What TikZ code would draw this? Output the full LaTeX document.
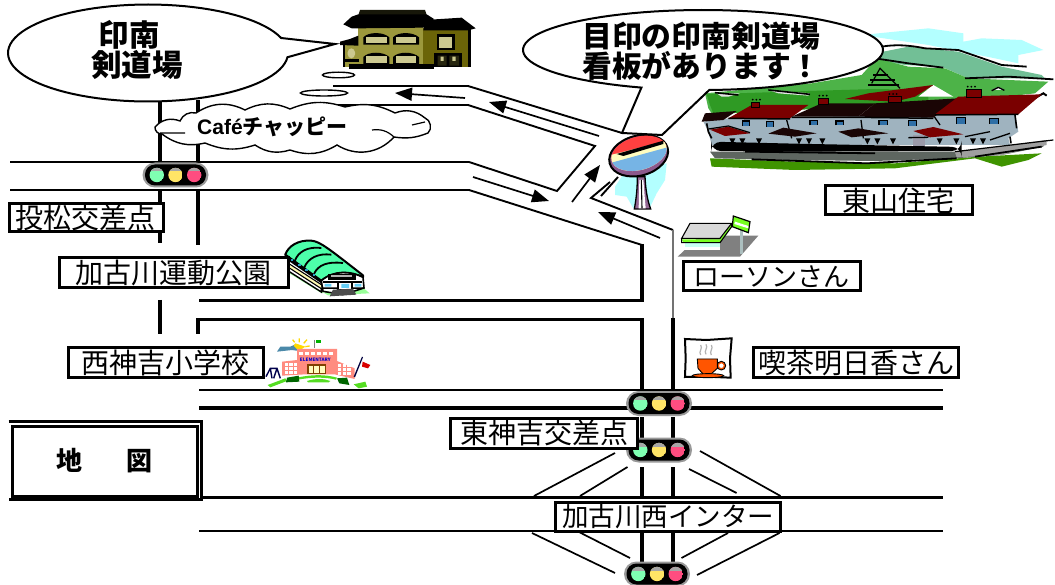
\documentclass[tikz,border=0pt]{standalone}
\usepackage{fontspec}
\setmainfont{Noto Sans CJK JP}
\newfontfamily\latinb{Liberation Sans}
\usetikzlibrary{arrows.meta,calc}
\definecolor{beige}{HTML}{CCC990}
\definecolor{olivea}{HTML}{9C983C}
\definecolor{oliveb}{HTML}{6B6408}
\definecolor{redroof}{HTML}{7A0000}
\definecolor{darkroof}{HTML}{1A0505}
\definecolor{wallc}{HTML}{9FB3BF}
\definecolor{winc}{HTML}{2F6FA6}
\definecolor{skyc}{HTML}{B3FFFF}
\definecolor{tealm}{HTML}{72BF96}
\definecolor{greenm}{HTML}{4DB348}
\definecolor{greend}{HTML}{2F9A24}
\definecolor{grassc}{HTML}{3F9400}
\definecolor{roadg}{HTML}{5E6660}
\definecolor{lampg}{HTML}{7FFFB2}
\definecolor{lampy}{HTML}{FFE566}
\definecolor{lampr}{HTML}{FF4D80}
\definecolor{lime}{HTML}{77FF22}
\definecolor{gymg}{HTML}{4DFFAA}
\definecolor{salmon}{HTML}{FF8C80}
\definecolor{grassl}{HTML}{55DD22}
\definecolor{cupc}{HTML}{FF5500}
\tikzset{
  road/.style={line width=2.8pt},
  roadthin/.style={line width=1.9pt},
  vroad/.style={line width=4.2pt},
  dirarrow/.style={line width=1.7pt,-{Triangle[length=17pt,width=13pt]}},
  labelbox/.style={draw=black,fill=white,line width=3pt,inner sep=0pt,font=\fontsize{28}{28}\selectfont},
  callout/.style={draw=black,fill=white,line width=2pt},
  boldtext/.style={inner sep=0pt,font=\fontsize{30.5}{30.5}\selectfont\bfseries},
  zoomed/.style={x=0.33333pt,y=-0.33333pt},
  hline/.style={black,line width=1.7pt}
}
\newcommand{\lamp}[2]{%
  \begin{scope}
    \clip (#1,0) circle (7.2);
    \fill[#2] (#1,0) circle (7.2);
    \fill[gray!70] (#1-8,-8) rectangle (#1+8,-3.5);
  \end{scope}}
\newcommand{\signal}[2]{%
  \begin{scope}[shift={(#1,#2)}]
    \fill[black!40,rounded corners=12.5pt] (-33,-12.5) rectangle (33,12.5);
    \fill[black,rounded corners=10pt] (-30.5,-10.5) rectangle (30.5,10.5);
    \lamp{-18.7}{lampg}
    \lamp{0}{lampy}
    \lamp{18.7}{lampr}
  \end{scope}}
\newcommand{\arched}[2]{%
  \fill[black] (#1,#2+27) -- (#1,#2+5) .. controls (#1+15,#2-12) and (#1+60,#2-12) .. (#1+78,#2+5) -- (#1+78,#2+27) -- cycle;
  \fill[beige] (#1+8,#2+3) rectangle (#1+70,#2+23);}
\begin{document}
\begin{tikzpicture}[x=1pt,y=-1pt,line cap=butt]
\useasboundingbox (0,0) rectangle (1055,585);
\fill[white] (0,0) rectangle (1055,585);

% ---------- roads
\draw[vroad] (160,100) -- (160,162) (160,190) -- (160,243) (160,300) -- (160,334);
\draw[vroad,line width=3.2pt] (198,100) -- (198,162) (198,190) -- (198,245);
\draw[road] (333,86) -- (468,86);
\draw[road] (333,105) -- (468,105);
\draw[road] (10,162) -- (469,162);
\draw[road] (10,190) -- (469,190);
\draw[roadthin] (468,86) -- (622,133);
\draw[roadthin] (468,105) -- (595,146) -- (557,191) -- (469,162);
\draw[roadthin] (469,190) -- (642,245);
\draw[road,line width=3.2pt,line join=miter] (642,244) -- (642,300.5) -- (199,300.5);
\draw[road,line width=3.2pt,line join=miter] (198,334) -- (198,319.5) -- (642,319.5) -- (642,390);
\draw[roadthin] (610,182) -- (591,198) -- (673,230);
\draw[black!55,line width=1.8pt] (673,230) -- (673,318);
\draw[road,line width=3.2pt] (673,318) -- (673,390);
\draw[line width=2pt] (199,390) -- (943,390);
\draw[line width=3.6pt] (199,408) -- (943,408);
\draw[line width=3pt] (199,497) -- (943,497);
\draw[line width=2.4pt] (199,531) -- (943,531);
\draw[road,line width=3.2pt] (642,417) -- (642,440) (673,417) -- (673,440)
  (642,467) -- (642,497) (673,467) -- (673,497)
  (642,531) -- (642,562) (673,531) -- (673,562);
\draw[hline] (615,453) -- (534,496) (627.5,467) -- (580,496) (700,451) -- (780.5,496) (689,469) -- (736.6,493)
  (532,533) -- (615,573) (577,531) -- (630,558) (728,533) -- (681.5,558) (779.5,533) -- (697,575);

% ---------- direction arrows
\coordinate (a1s) at (465,98); \coordinate (a1e) at (395,93);
\coordinate (a2s) at (599,136); \coordinate (a2e) at (489,102);
\coordinate (a3s) at (473,177); \coordinate (a3e) at (549,201);
\coordinate (a4s) at (572,202); \coordinate (a4e) at (600,165);
\coordinate (a5s) at (660,238); \coordinate (a5e) at (598,212);
\draw[dirarrow] (a1s) -- (a1e);
\draw[dirarrow] (a2s) -- (a2e);
\draw[dirarrow] (a3s) -- (a3e);
\draw[dirarrow] (a4s) -- (a4e);
\draw[dirarrow] (a5s) -- (a5e);
\draw[roadthin] (601,196) -- (618,177);

% ---------- Higashiyama houses
\begin{scope}[shift={(695,25)},zoomed]
  \fill[skyc] (500,30) -- (700,10) -- (805,25) -- (805,50) -- (860,40) -- (980,45) -- (1045,75) -- (970,90) -- (970,115) -- (900,100) -- (700,60) -- cycle;
  \fill[white] (820,100) -- (1000,125) -- (1050,160) -- (820,160) -- cycle;
  \fill[tealm] (540,85) -- (640,65) -- (790,80) -- (920,125) -- (1040,150) -- (1050,160) -- (820,160) -- (740,125) -- (630,120) -- (540,105) -- cycle;
  \fill[greenm] (30,205) -- (350,175) -- (500,150) -- (545,100) -- (640,125) -- (750,130) -- (820,160) -- (1060,170) -- (1020,205) -- (800,230) -- (100,262) -- (60,280) -- (40,250) -- cycle;
  \fill[greend] (35,208) -- (340,198) -- (540,192) -- (700,195) -- (700,235) -- (100,265) -- (55,265) -- (45,240) -- cycle;
  \fill[white] (670,215) -- (715,180) -- (775,215) -- cycle;
  \fill[white] (890,195) -- (910,185) -- (928,195) -- cycle;
  \draw[line width=1.4pt] (890,197) -- (910,187) -- (928,196);
  \draw[line width=2pt] (1010,225) -- (1045,205) -- (1055,212);
  \fill[white!80!gray] (65,205) -- (135,205) -- (100,215) -- (80,215) -- cycle;
  \fill[white!80!gray] (220,195) -- (345,205) -- (340,212) -- (250,205) -- cycle;
  \draw[line width=1.6pt] (60,203) -- (130,210) (220,195) -- (345,208);
  % mountain strokes
  \draw[line width=1.8pt] (560,65) .. controls (600,58) and (640,60) .. (690,70) -- (790,75) -- (920,120) -- (995,125);
  \draw[line width=1.8pt] (540,100) -- (640,115) -- (745,128);
  \draw[line width=1.8pt] (810,160) -- (940,155) -- (1075,163);
  % tower
  \draw[line width=1.2pt] (530,175) -- (555,130) -- (615,190);
  \draw[line width=1.2pt] (535,150) -- (580,150) (525,165) -- (600,165) (520,180) -- (612,180);
  % back roof
  \fill[redroof] (450,222) -- (520,205) -- (715,180) -- (660,215) -- (600,230) -- cycle;
  % walls
  \fill[wallc] (25,290) -- (100,280) -- (960,265) -- (970,320) -- (940,340) -- (945,360) -- (50,360) -- (40,320) -- cycle;
  \fill[black!35!blue!12!gray!70] (655,330) rectangle (690,370);
  \draw[line width=1.3pt] (275,285) -- (290,340) (498,285) -- (505,340) (718,275) -- (735,300);
  % roofs
  \fill[darkroof] (20,290) -- (30,265) -- (125,258) -- (85,285) -- cycle;
  \fill[redroof] (100,280) -- (170,240) -- (340,240) -- (285,280) -- cycle;
  \fill[darkroof] (290,275) -- (380,235) -- (540,235) -- (490,275) -- cycle;
  \fill[darkroof] (490,275) -- (540,235) -- (790,220) -- (715,278) -- cycle;
  \fill[redroof] (720,268) -- (790,215) -- (1040,208) -- (970,268) -- cycle;
  \draw[line width=1.5pt] (100,280) -- (285,282) (290,277) -- (490,277) (490,277) -- (715,280) (720,270) -- (970,268);
  % chimneys
  \foreach \a/\b/\c/\d in {170/232/193/247, 370/220/400/237, 580/215/620/232, 815/193/860/217}{
    \fill[redroof] (\a,\b) rectangle (\c,\d);
    \draw[line width=0.9pt] (\a,\b) rectangle (\c,\d);
    \fill[black] (\a+3,\b-8) circle (3) (\a+14,\b-8) circle (3) (\a+25,\b-8) circle (3);
  }
  % windows
  \foreach \a/\b/\c/\d in {142/288/163/303, 215/290/235/305, 345/286/367/301, 423/288/445/301, 552/286/578/301, 640/287/665/303, 785/277/812/296, 883/280/910/296}{
    \fill[winc] (\a,\b) rectangle (\c,\d);
    \draw[line width=1.1pt] (\a,\d) -- (\a,\b) -- (\c,\b) -- (\c,\d);
  }
  % lower roofs
  \fill[redroof] (45,314) -- (100,305) -- (165,325) -- (90,333) -- cycle;
  \draw[line width=1.2pt] (40,312) -- (100,303) -- (165,323);
  \fill[darkroof] (220,326) -- (265,308) -- (365,325) -- (300,335) -- cycle;
  \fill[darkroof] (430,320) -- (490,310) -- (580,325) -- (470,337) -- cycle;
  \fill[redroof] (655,318) -- (715,306) -- (805,328) -- (705,337) -- cycle;
  \draw[line width=1.3pt] (640,338) -- (700,337) (810,335) -- (885,320) (885,345) -- (945,325);
  % eave triangles
  \foreach \a in {103,133,183,303,333,373,508,538,585,725,775,825,855}{
    \fill[black] (\a,340) -- (\a+18,340) -- (\a+9,358) -- cycle;
  }
  \draw[line width=1.6pt] (35,295) -- (40,320) -- (50,340) (960,270) -- (965,310) (945,335) -- (948,355);
  % grass
  \fill[grassc] (45,400) -- (300,410) -- (600,415) -- (850,395) -- (1040,385) -- (1000,405) -- (920,425) -- (840,400) -- (600,430) -- (300,435) -- (50,425) -- cycle;
  % road
  \fill[roadg] (45,380) -- (780,380) -- (1050,350) -- (1045,365) -- (920,390) -- (780,400) -- (540,408) -- (300,405) -- (60,400) -- cycle;
  \fill[gray!75] (780,382) -- (1055,345) -- (1055,360) -- (920,390) -- (785,397) -- cycle;
  \fill[black,rounded corners=10pt] (48,350) -- (300,356) -- (800,366) -- (800,378) -- (300,380) -- (48,378) -- cycle;
  \draw[line width=1.8pt] (150,380) -- (540,385);
  \draw[line width=1.8pt] (170,403) -- (515,415) -- (785,400);
  \draw[line width=1.8pt] (840,395) -- (1040,365);
  \draw[line width=1.2pt] (780,380) -- (1075,345);
\end{scope}

% ---------- speech bubbles
\coordinate (tip1) at (335,44);
\coordinate (tip2a) at (662,135);
\coordinate (tip2b) at (622,133);
\draw[callout,line join=miter] plot[domain=5:342,samples=90] ({148+140*cos(\x)},{53+48.5*sin(\x)}) -- (tip1) -- cycle;
\draw[callout,line join=miter] plot[domain=110:448,samples=90] ({703+180*cos(\x)},{50+40*sin(\x)}) -- (tip2a) -- (tip2b) -- cycle;
\node[boldtext,anchor=center] (inami1) at (129,35) {印南};
\node[boldtext,anchor=center] (inami2) at (137,65) {剣道場};
\node[boldtext,align=left,anchor=west,font=\fontsize{29.8}{27.5}\selectfont\bfseries] (mejirushi) at (582,51) {目印の印南剣道場\\看板があります！};

% ---------- small ellipses and cloud
\draw[line width=1.4pt,fill=white] (338.5,75) ellipse (16 and 2.8);
\draw[line width=1.4pt,fill=white] (324,93) ellipse (23.5 and 3);
\draw[line width=1.4pt,fill=white]
  (155,127) to[bend left=35] (180,121) to[bend left=40] (196,113) to[bend left=30] (245,110)
  to[bend left=25] (290,109) to[bend left=20] (345,107) to[bend left=20] (395,113)
  to[bend left=30] (425,118) to[bend left=60] (428,133) to[bend left=15] (394,137)
  to[bend left=40] (337,145) to[bend left=25] (290,150) to[bend left=25] (255,145)
  to[bend left=20] (205,143) to[bend left=25] (162,134) to[bend left=50] cycle;
\draw[line width=1.2pt] (160,133) -- (185,133) (372,130) to[bend left=25] (394,137) (412,125) -- (425,122);
\node[inner sep=0pt,anchor=west] (cafe) at (197,126.5) {\fontsize{21}{21}\selectfont\bfseries{\latinb Café}チャッピー};

% ---------- traffic lights
\signal{175.5}{175}
\signal{659}{403.5}
\signal{659}{450}
\signal{657}{574}

% ---------- building
\begin{scope}[shift={(335,5)},zoomed]
  \fill[oliveb] (265,70) rectangle (405,185);
  \fill[black] (400,70) rectangle (408,185);
  \fill[olivea] (70,60) rectangle (265,180);
  \fill[olivea] (28,120) rectangle (70,185);
  \fill[black!85!olivea] (75,15) -- (270,15) -- (275,30) -- (70,30) -- cycle;
  \fill[black] (70,28) -- (275,28) -- (297,42) -- (265,68) -- (70,70) -- (50,70) -- (25,58) -- (50,35) -- cycle;
  \fill[black] (270,45) -- (380,38) -- (422,70) -- (400,76) -- (265,76) -- cycle;
  \arched{85}{92}\arched{174}{92}
  \arched{85}{151}\arched{174}{151}
  \fill[black] (305,88) rectangle (360,136);
  \fill[beige] (311,97) rectangle (352,130);
  \fill[black] (297,145) rectangle (382,185);
  \fill[black!75!olivea] (308,152) rectangle (335,182) (343,152) rectangle (372,182);
  \fill[beige] (317,155) rectangle (326,168) (352,155) rectangle (362,168);
  \fill[black] (15,120) -- (15,110) -- (45,102) -- (70,92) -- (70,122) -- cycle;
  \fill[black] (24,120) rectangle (30,185);
  \fill[beige,rounded corners=4pt] (38,130) rectangle (60,160);
  \fill[black] (27,162) rectangle (72,172);
  \fill[black] (42,178) rectangle (298,193);
\end{scope}

% ---------- mirror sign
\begin{scope}[shift={(600,130)},zoomed]
  \fill[skyc] (45,170) -- (75,125) -- (200,100) -- (195,150) -- (170,190) -- (150,232) -- (100,235) -- (80,200) -- (45,195) -- cycle;
  \draw[line width=1.3pt,fill=violet!40!gray!85] (112,140) .. controls (112,180) and (108,210) .. (103,237) -- (152,237) .. controls (142,210) and (137,180) .. (135,140) -- cycle;
  \fill[white] (118,150) -- (130,150) -- (137,235) -- (116,235) -- cycle;
  \draw[line width=1.1pt] (124,150) -- (126,235);
  \draw[line width=2pt,fill=violet!45!gray!90,rotate around={15:(116,77)}] (116,77) ellipse (90 and 60);
  \begin{scope}
    \clip[rotate around={15:(117,70)}] (117,70) ellipse (85 and 50);
    \fill[red!75!white] (20,10) rectangle (220,150);
    \fill[yellow!25!white] (20,78) -- (210,30) -- (220,150) -- (20,150) -- cycle;
    \fill[cyan!70!blue!55!white] (20,102) -- (210,50) -- (220,150) -- (20,150) -- cycle;
    \fill[black] (50,72) -- (190,32) -- (190,42) -- (70,78) -- cycle;
  \end{scope}
\end{scope}

% ---------- Lawson
\begin{scope}[shift={(675,210)},zoomed]
  \fill[gray] (8,140) -- (75,77) -- (250,77) -- (195,140) -- cycle;
  \fill[green!20!cyan!22] (30,98) rectangle (135,112);
  \fill[white] (28,112) rectangle (135,120);
  \fill[lime] (20,88) -- (135,88) -- (170,40) -- (170,50) -- (135,98) -- (25,98) -- cycle;
  \draw[line width=1.1pt,fill=gray!30] (20,85) -- (45,40) -- (170,40) -- (135,85) -- cycle;
  \draw[line width=1.1pt] (20,85) -- (20,98) -- (135,98) -- (170,50) -- (170,40);
  \fill[teal!30!gray!50] (195,60) rectangle (205,132);
  \draw[line width=1.2pt,fill=lime] (175,18) -- (225,35) -- (220,68) -- (172,50) -- cycle;
  \fill[white] (180,35) -- (220,48) -- (220,55) -- (178,42) -- cycle;
\end{scope}

% ---------- gym
\begin{scope}[shift={(278,238)},zoomed]
  \fill[green!40] (0,85) -- (30,100) -- (150,172) -- (275,166) -- (250,145) -- (130,165) -- cycle;
  \draw[line width=1.4pt,fill=white] (22,50) -- (130,128) -- (130,162) -- (20,92) -- cycle;
  \fill[yellow!30] (22,72) -- (130,142) -- (130,150) -- (22,82) -- cycle;
  \fill[black] (22,50) -- (130,128) -- (130,136) -- (22,62) -- cycle;
  \draw[line width=1.1pt] (22,70) -- (130,140) (22,82) -- (130,152);
  \draw[line width=2pt,fill=gymg,line join=round]
    (22,50) .. controls (30,25) and (60,5) .. (100,8) .. controls (125,10) and (150,30) .. (255,112) -- (255,118) .. controls (220,100) and (170,95) .. (130,128) -- cycle;
  \draw[line width=1.8pt] (50,70) .. controls (60,40) and (90,25) .. (130,30)
    (78,90) .. controls (90,60) and (120,45) .. (160,50)
    (108,108) .. controls (120,80) and (150,70) .. (195,75);
  \foreach \a/\b in {38/64,60/79,82/94,104/109}{\fill[cyan!60!teal] (\a,\b) rectangle (\a+8,\b+5);}
  \draw[line width=1.6pt,fill=white] (130,128) .. controls (170,95) and (220,100) .. (255,118) -- (258,150) -- (195,170) -- (135,160) -- cycle;
  \fill[black] (150,108) rectangle (235,125);
  \fill[gray!60] (160,112) rectangle (222,118);
  \fill[black] (135,130) rectangle (253,136);
  \fill[cyan!60] (140,138) rectangle (160,146) (190,138) rectangle (213,150) (230,138) rectangle (250,146);
  \draw[line width=1.3pt] (180,132) rectangle (222,155);
  \fill[black] (132,148) rectangle (178,153) (222,148) rectangle (256,153);
  \fill[gray!60!black] (165,155) -- (225,152) -- (235,170) -- (155,175) -- cycle;
\end{scope}

% ---------- school
\begin{scope}[shift={(262,335)},zoomed]
  \fill[gray!60!blue!40!teal!80] (45,50) -- (55,35) -- (85,35) -- (100,28) -- (110,48) -- (90,45) -- cycle;
  \fill[orange!30!yellow] (100,25) -- (130,35) -- (110,48) -- (95,32) -- cycle;
  \draw[orange!30!yellow,line width=1.3pt] (112,22) -- (112,10) (125,25) -- (135,14) (130,35) -- (143,33) (98,22) -- (92,14);
  \draw[gray,line width=1.5pt] (158,15) -- (158,38);
  \fill[green!70!black] (163,15) rectangle (178,25);
  \fill[salmon] (60,80) -- (105,75) -- (105,42) -- (225,42) -- (225,78) -- (278,100) -- (278,132) -- (218,118) -- (130,118) -- (60,122) -- cycle;
  \foreach \a in {112,130,148,166,184,202}{\fill[white] (\a,50) rectangle (\a+12,60);}
  \foreach \a in {68,82,96}{\foreach \b in {84,96,108}{\fill[white] (\a,\b) rectangle (\a+10,\b+8);}}
  \foreach \a in {228,242,256}{\foreach \b in {88,100,112}{\fill[white] (\a,\b) rectangle (\a+10,\b+8);}}
  \node[inner sep=0pt,text=blue!80!black] (elem) at (160,75) {\fontsize{4.6}{5}\selectfont\bfseries ELEMENTARY};
  \fill[yellow!25] (138,90) rectangle (190,115);
  \draw[orange!50!black,line width=1.4pt] (138,90) rectangle (190,115) (155,90) -- (155,115) (172,90) -- (172,115);
  \fill[black!75!blue] (275,125) -- (300,65) -- (303,67) -- (279,127) -- cycle;
  \fill[red!85!black] (302,80) -- (325,90) -- (318,100) -- (300,95) -- cycle;
  \draw[black!70!blue,line width=1.4pt] (12,125) -- (25,100) -- (45,100) -- (55,130) (25,100) -- (30,130) (45,100) -- (35,130);
  \fill[grassl] (17,150) -- (70,130) -- (75,138) -- (25,157) -- cycle;
  \fill[grassl] (105,128) .. controls (150,118) and (190,118) .. (225,128) -- (222,134) .. controls (190,126) and (150,126) .. (108,134) -- cycle;
  \fill[grassl] (135,138) .. controls (160,130) and (185,130) .. (205,138) -- (200,142) -- (138,142) -- cycle;
  \fill[grassl] (275,148) -- (310,140) -- (315,155) -- (290,160) -- cycle;
  \fill[green!40!black] (75,128) -- (110,122) -- (112,140) -- (72,142) -- cycle;
  \fill[green!40!black] (225,130) -- (255,128) -- (262,150) -- (232,145) -- cycle;
\end{scope}

% ---------- coffee
\begin{scope}[shift={(680,335)},zoomed]
  \draw[line width=2pt,fill=white] (15,12) -- (80,15) -- (155,10) -- (150,70) -- (152,128) -- (80,125) -- (15,126) -- (17,70) -- cycle;
  \draw[gray!60,line width=1.2pt] (62,30) to[bend left=30] (62,45) to[bend right=30] (62,60)
    (78,28) to[bend left=30] (78,43) to[bend right=30] (78,58)
    (94,30) to[bend left=30] (94,45) to[bend right=30] (94,60);
  \draw[line width=1.8pt,cupc] (124,92) circle (10);
  \draw[line width=0.9pt] (124,92) circle (13);
  \draw[line width=0.9pt,fill=cupc] (52,72) -- (112,72) -- (112,100) -- (92,118) -- (70,118) -- (54,100) -- cycle;
  \draw[line width=0.9pt,fill=cupc] (84,122) ellipse (47 and 6);
\end{scope}

% ---------- labels
\node[labelbox,minimum width=154pt,minimum height=28pt] (tomatsu) at (86,218) {投松交差点};
\node[labelbox,minimum width=229pt,minimum height=30pt] (undo) at (173.5,273) {加古川運動公園};
\node[labelbox,minimum width=195pt,minimum height=29pt] (nishikanki) at (165.5,362.5) {西神吉小学校};
\node[labelbox,minimum width=147pt,minimum height=29pt] (higashiyama) at (898.5,200.5) {東山住宅};
\node[labelbox,minimum width=177pt,minimum height=29pt,font=\fontsize{26}{26}\selectfont] (lawson) at (771.5,276.5) {ローソンさん};
\node[labelbox,minimum width=205pt,minimum height=29pt] (asuka) at (856,362.5) {喫茶明日香さん};
\node[labelbox,minimum width=187pt,minimum height=30pt] (higashi) at (544,433) {東神吉交差点};
\node[labelbox,minimum width=225pt,minimum height=29pt,font=\fontsize{26.5}{26.5}\selectfont] (inter) at (668,516.5) {加古川西インター};
\draw[line width=3pt,fill=white] (8.5,421.5) -- (201,421.5) -- (201,499) -- (8.5,499);
\node[draw=black,line width=3pt,fill=white,inner sep=0pt,minimum width=185pt,minimum height=70pt,font=\fontsize{26}{26}\selectfont\bfseries] (chizu) at (104.5,461) {地\hspace{44pt}図};
\end{tikzpicture}
\end{document}
